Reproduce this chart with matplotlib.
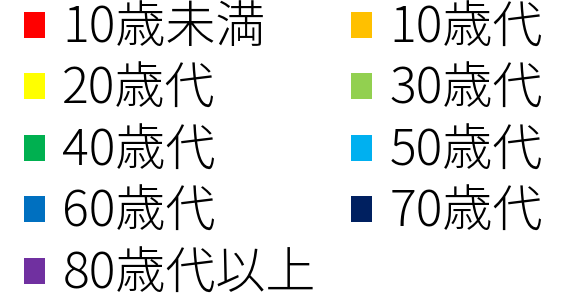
import matplotlib
matplotlib.use("Agg")
import matplotlib.pyplot as plt
from matplotlib.patches import Patch

plt.rcParams['font.family'] = ['Noto Sans CJK JP', 'DejaVu Sans']

categories = ["10歳未満", "10歳代", "20歳代", "30歳代", "40歳代",
              "50歳代", "60歳代", "70歳代", "80歳代以上"]
colors = ["#FF0000", "#FFC000", "#FFFF00", "#92D050", "#00B050",
          "#00B0F0", "#0070C0", "#002060", "#7030A0"]

fig = plt.figure(figsize=(5.69, 2.96), dpi=100)
ax = fig.add_axes([0, 0, 1, 1])
ax.axis('off')

handles = [Patch(facecolor=c, edgecolor='none') for c in colors]
# matplotlib fills legend columns first; reorder so reading is row-wise
order = [0, 2, 4, 6, 8, 1, 3, 5, 7]
h = [handles[i] for i in order]
l = [categories[i] for i in order]
leg = ax.legend(h, l, ncol=2, loc='upper left', bbox_to_anchor=(0.042, 0.99),
                frameon=False, handlelength=0.42, handleheight=0.42,
                handletextpad=0.35, labelspacing=0.2, columnspacing=0.7,
                borderaxespad=0.0, borderpad=0.0,
                prop={'family': ['Noto Sans CJK JP', 'DejaVu Sans'],
                      'size': 36, 'weight': 'light'})
fig.savefig("out.png", dpi=100, facecolor='white')
